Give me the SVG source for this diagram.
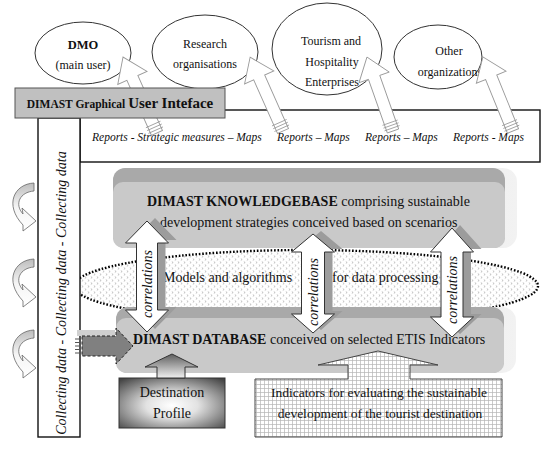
<svg xmlns="http://www.w3.org/2000/svg" xmlns:xlink="http://www.w3.org/1999/xlink" width="550" height="452" viewBox="0 0 550 452">
<defs>
<style>
.t{font-family:"Liberation Serif","Times New Roman",serif;fill:#111}
.it{font-style:italic}
.b{font-weight:bold}
.ell{fill:#fff;stroke:#333;stroke-width:1}
.box{fill:#fff;stroke:#111;stroke-width:1.4}
.harrow{fill:#fff;stroke:#9a9a9a;stroke-width:0.9}
.stripe{stroke:#9a9a9a;stroke-width:0.8}
.corr{fill:#fff;stroke:#333;stroke-width:1}
.corrsh{fill:#9c9c9c}
.curl{fill:url(#curlGrad);stroke:#666;stroke-width:0.8}
</style>
<pattern id="dots" width="6" height="6" patternUnits="userSpaceOnUse">
<rect width="6" height="6" fill="#fff"/>
<path d="M0.8 0.6 l1.4 0.9 l-1.4 0.9 M3.8 3.6 l1.4 0.9 l-1.4 0.9" fill="none" stroke="#a0a0a0" stroke-width="0.6"/>
</pattern>
<pattern id="grid" width="4" height="4" patternUnits="userSpaceOnUse">
<rect width="4" height="4" fill="#fff"/>
<path d="M0 0.5 H4 M0.5 0 V4" stroke="#b4b4b4" stroke-width="0.7"/>
</pattern>
<linearGradient id="curlGrad" x1="0" y1="0" x2="0" y2="1">
<stop offset="0" stop-color="#bdbdbd"/>
<stop offset="0.5" stop-color="#f4f4f4"/>
<stop offset="1" stop-color="#ffffff"/>
</linearGradient>
<radialGradient id="destGrad" cx="0.5" cy="0.55" r="0.7">
<stop offset="0" stop-color="#ffffff"/>
<stop offset="0.35" stop-color="#e2e2e2"/>
<stop offset="1" stop-color="#454545"/>
</radialGradient>
<linearGradient id="destArrowGrad" x1="0" y1="0" x2="0" y2="1">
<stop offset="0" stop-color="#5e5e5e"/>
<stop offset="1" stop-color="#f0f0f0"/>
</linearGradient>
<linearGradient id="bevelGrad" x1="0" y1="0" x2="1" y2="0">
<stop offset="0" stop-color="#d4d4d4"/>
<stop offset="1" stop-color="#f2f2f2"/>
</linearGradient>
<g id="hollow">
<path class="harrow" d="M-6 0 V-58 H-16 L0 -80 L16 -58 H6 V0 Z"/>
<path class="stripe" d="M-8 -3 H8 M-8 -6 H8 M-8 -9 H8"/>
</g>
<path id="curlShape" class="curl" d="M34 183 C14 184 4 205 23 225 L23 231 L36 221 L22 208 L23 214 C14 204 20 192 34 191 Z"/>
</defs>

<rect width="550" height="452" fill="#fff"/>

<!-- user ellipses -->
<g id="dmo">
<ellipse class="ell" cx="83" cy="53" rx="48" ry="31"/>
<text class="t b" x="83" y="49" font-size="12.5" text-anchor="middle">DMO</text>
<text class="t" x="83" y="69" font-size="12" text-anchor="middle">(main user)</text>
</g>
<g id="research">
<ellipse class="ell" cx="205" cy="52" rx="53" ry="37"/>
<text class="t" x="205" y="48" font-size="12" text-anchor="middle">Research</text>
<text class="t" x="205" y="68" font-size="12" text-anchor="middle">organisations</text>
</g>
<g id="tourism">
<ellipse class="ell" cx="327" cy="49" rx="55" ry="46"/>
<text class="t" x="331" y="45" font-size="12" text-anchor="middle">Tourism and</text>
<text class="t" x="332" y="66" font-size="12" text-anchor="middle">Hospitality</text>
<text class="t" x="332" y="86" font-size="12" text-anchor="middle">Enterprises</text>
</g>
<g id="other">
<ellipse class="ell" cx="438" cy="57" rx="44" ry="32"/>
<text class="t" x="449" y="55" font-size="12" text-anchor="middle">Other</text>
<text class="t" x="450" y="76" font-size="12" text-anchor="middle">organizations</text>
</g>

<!-- reports box -->
<g id="reports">
<rect class="box" x="80" y="110" width="460" height="52"/>
<text class="t it" x="92" y="141" font-size="11.5">Reports - Strategic measures – Maps</text>
<text class="t it" x="277" y="141" font-size="11.5">Reports – Maps</text>
<text class="t it" x="365" y="141" font-size="11.5">Reports – Maps</text>
<text class="t it" x="453" y="141" font-size="11.5">Reports - Maps</text>
</g>

<!-- knowledge base -->
<g id="knowledgebase">
<rect x="113" y="168" width="404" height="80" rx="14" fill="url(#bevelGrad)"/>
<rect x="113" y="168" width="392" height="80" rx="12" fill="#a9a9a9"/>
<rect x="113" y="182" width="392" height="66" rx="10" fill="#c9c9c9"/>
<text class="t" x="147" y="206" font-size="14"><tspan class="b">DIMAST KNOWLEDGEBASE</tspan> comprising sustainable</text>
<text class="t" x="160" y="227" font-size="14">development strategies conceived based on scenarios</text>
</g>

<!-- models ellipse -->
<g id="models">
<ellipse cx="306" cy="286" rx="232" ry="36" fill="url(#dots)" stroke="#000" stroke-width="2.4" stroke-dasharray="1.6 1.8"/>
<text class="t" x="163" y="282" font-size="14">Models and algorithms</text>
<text class="t" x="332" y="282" font-size="14">for data processing</text>
</g>

<!-- database -->
<g id="database">
<rect x="116" y="307" width="400" height="66" rx="14" fill="url(#bevelGrad)"/>
<rect x="116" y="307" width="388" height="66" rx="12" fill="#a9a9a9"/>
<rect x="116" y="318" width="388" height="55" rx="10" fill="#c9c9c9"/>
<text class="t" x="133" y="344" font-size="14"><tspan class="b">DIMAST DATABASE</tspan> conceived on selected ETIS Indicators</text>
</g>

<!-- collecting column -->
<g id="collecting">
<rect class="box" x="38" y="118" width="42" height="319"/>
<text class="t it" transform="translate(66 293) rotate(-90)" font-size="14" text-anchor="middle">Collecting data - Collecting data - Collecting data</text>
</g>

<!-- destination profile -->
<g id="destination">
<rect x="119" y="378" width="106" height="50" fill="url(#destGrad)" stroke="#333" stroke-width="1"/>
<text class="t" x="172" y="397" font-size="14" text-anchor="middle">Destination</text>
<text class="t" x="172" y="418" font-size="14" text-anchor="middle">Profile</text>
</g>

<!-- indicators -->
<g id="indicators">
<path d="M255 379 H348 V365 H318 L378 351 L438 365 H410 V379 H502 V437 H255 Z" fill="url(#grid)" stroke="#444" stroke-width="1"/>
<text class="t" x="379" y="397" font-size="13.5" text-anchor="middle">Indicators for evaluating the sustainable</text>
<text class="t" x="380" y="418" font-size="13.5" text-anchor="middle">development of the tourist destination</text>
</g>

<!-- connectors -->
<g id="connectors">
<!-- report arrows to users -->
<use xlink:href="#hollow" transform="translate(157 133) rotate(-24.1) scale(1 1.04)"/>
<use xlink:href="#hollow" transform="translate(283 131) rotate(-24) scale(1 1.01)"/>
<use xlink:href="#hollow" transform="translate(393 131) rotate(-19.4) scale(1 0.98)"/>
<use xlink:href="#hollow" transform="translate(513 131) rotate(-22.1) scale(1 1)"/>

<!-- correlation arrows -->
<path class="corrsh" transform="translate(8 -3)" d="M147 221 L168.5 243 H157.5 V310 H168.5 L147 332 L125.5 310 H136.5 V243 H125.5 Z"/>
<path class="corr" d="M147 221 L168.5 243 H157.5 V310 H168.5 L147 332 L125.5 310 H136.5 V243 H125.5 Z"/>
<text class="t it" transform="translate(152 284) rotate(-90)" font-size="14" text-anchor="middle">correlations</text>

<path class="corrsh" transform="translate(8 -3)" d="M313 234 L334.5 252 H324.5 V314 H334.5 L313 333 L291.5 314 H301.5 V252 H291.5 Z"/>
<path class="corr" d="M313 234 L334.5 252 H324.5 V314 H334.5 L313 333 L291.5 314 H301.5 V252 H291.5 Z"/>
<text class="t it" transform="translate(318 292) rotate(-90)" font-size="14" text-anchor="middle">correlations</text>

<path class="corrsh" transform="translate(8 -3)" d="M452 228 L473.5 252 H463 V317 H473.5 L452 337 L430.5 317 H441 V252 H430.5 Z"/>
<path class="corr" d="M452 228 L473.5 252 H463 V317 H473.5 L452 337 L430.5 317 H441 V252 H430.5 Z"/>
<text class="t it" transform="translate(457 290) rotate(-90)" font-size="14" text-anchor="middle">correlations</text>

<!-- destination arrow -->
<path d="M157 378 V367 H145 L172 354 L198 367 H185 V378 Z" fill="url(#destArrowGrad)" stroke="#333" stroke-width="1"/>

<!-- collecting data arrow -->
<rect x="77" y="330" width="38" height="6" fill="#d0d0d0"/>
<path d="M82 336 H116 V328 L133 346 L116 364 V356 H82 Z" fill="#808080" stroke="#222" stroke-width="1" stroke-dasharray="3 2"/>
<path d="M75 339 H81 M75 342.5 H81 M75 346 H81 M75 349.5 H81 M75 353 H81" stroke="#555" stroke-width="1.2"/>

<!-- curled arrows -->
<use xlink:href="#curlShape"/>
<use xlink:href="#curlShape" transform="translate(0 76)"/>
<use xlink:href="#curlShape" transform="translate(0 147)"/>
</g>

<!-- GUI (drawn on top of the first report arrow) -->
<g id="gui">
<rect x="15" y="88" width="210" height="30" fill="#c0c0c0" stroke="#555" stroke-width="1"/>
<text class="t b" x="120" y="108" text-anchor="middle"><tspan font-size="11.5">DIMAST Graphical </tspan><tspan font-size="15">User Inteface</tspan></text>
</g>
</svg>
